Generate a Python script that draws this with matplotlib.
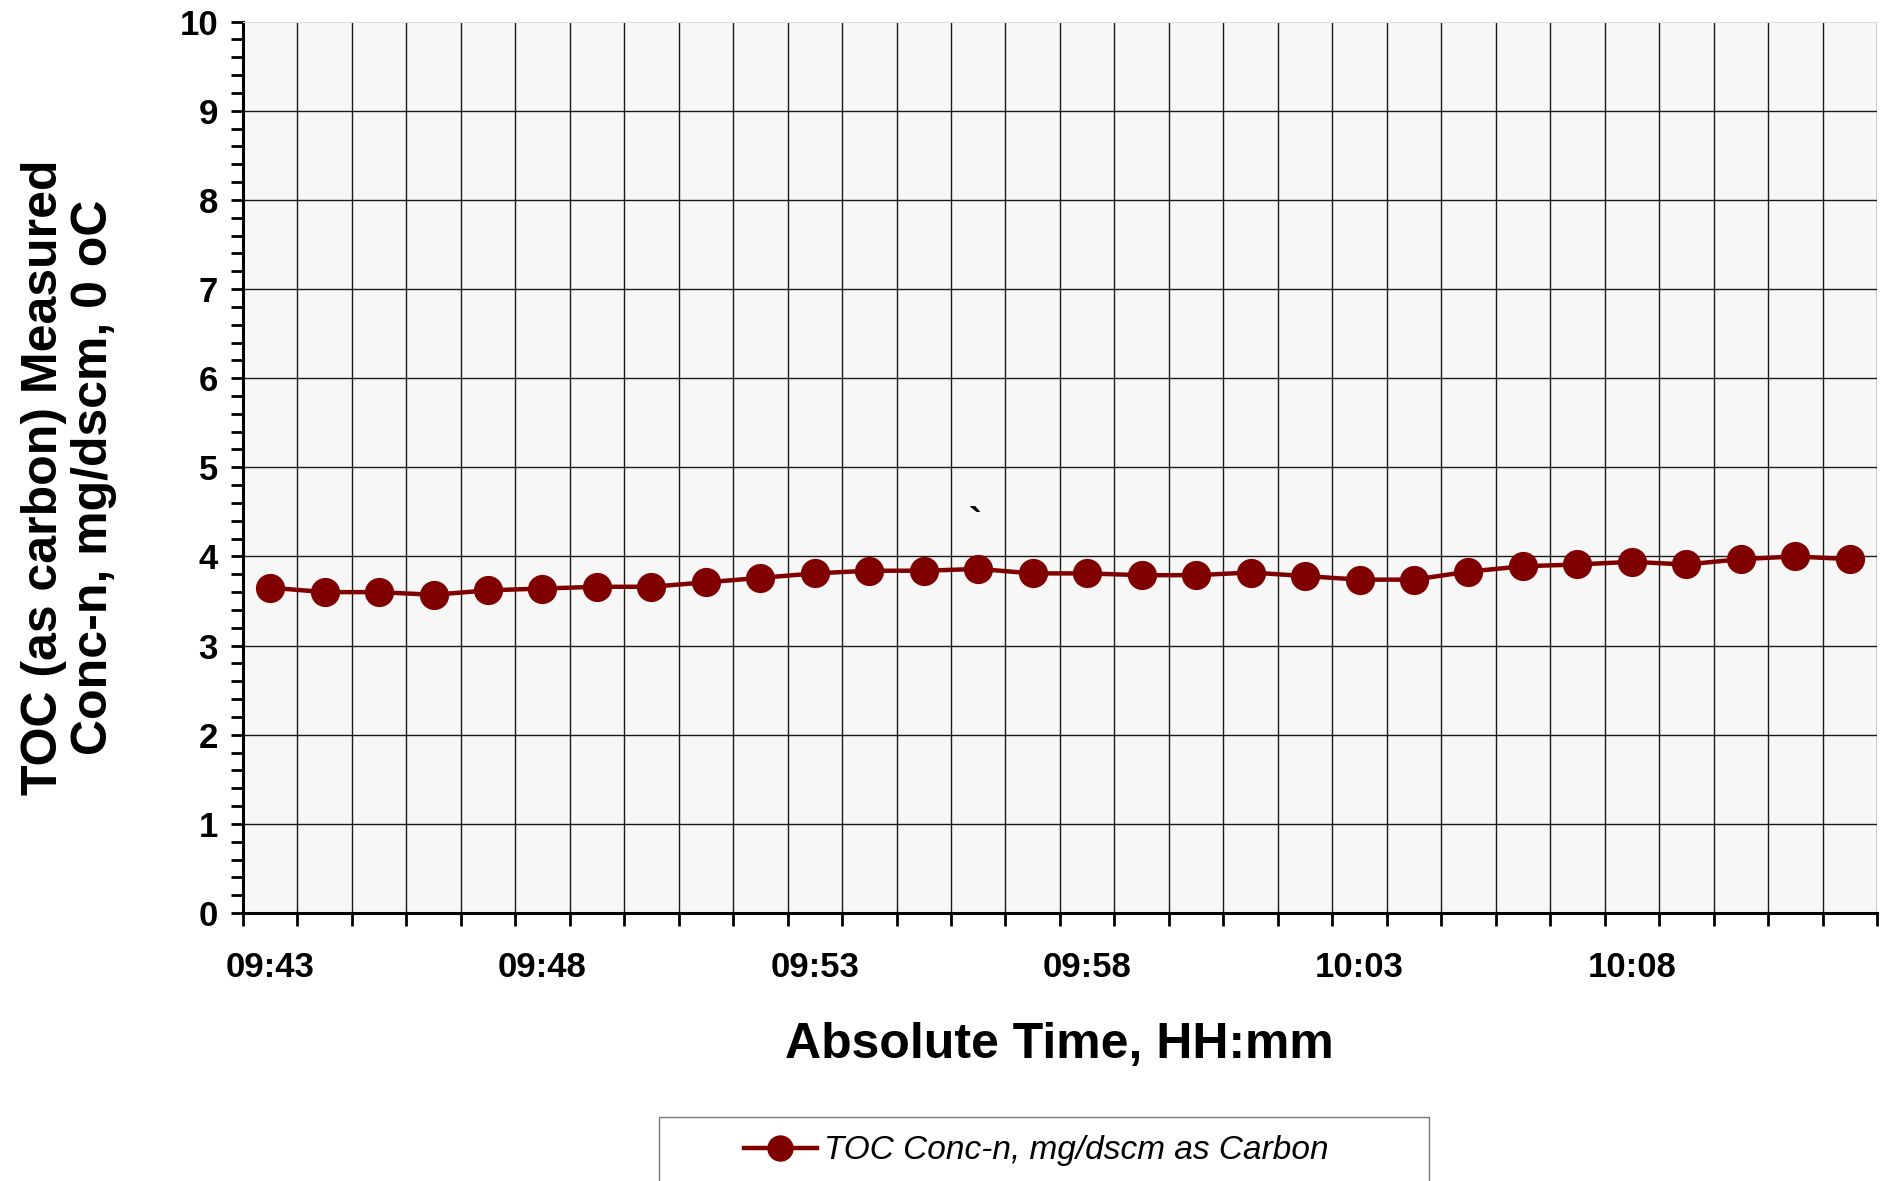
import pandas as pd
import matplotlib.pyplot as plt
from matplotlib.patches import Rectangle
from matplotlib.ticker import FixedLocator, MultipleLocator

plt.rcParams['font.family'] = ['Liberation Sans', 'DejaVu Sans']

# Datos: tiempo de cada lectura y concentracion TOC
times = ["09:43:30", "09:44:30", "09:45:30", "09:46:30", "09:47:30", "09:48:30",
         "09:49:30", "09:50:30", "09:51:30", "09:52:30", "09:53:30", "09:54:30",
         "09:55:30", "09:56:30", "09:57:30", "09:58:30", "09:59:30", "10:00:30",
         "10:01:30", "10:02:30", "10:03:30", "10:04:30", "10:05:30", "10:06:30",
         "10:07:30", "10:08:30", "10:09:30", "10:10:30", "10:11:30", "10:12:30"]
toc = [3.65, 3.60, 3.60, 3.57, 3.62, 3.64, 3.66, 3.66, 3.71, 3.76,
       3.81, 3.84, 3.84, 3.86, 3.81, 3.81, 3.79, 3.79, 3.82, 3.78,
       3.74, 3.74, 3.83, 3.89, 3.91, 3.94, 3.91, 3.97, 4.00, 3.97]
tick_labels = ["09:43", "09:48", "09:53", "09:58", "10:03", "10:08"]
start, end = "09:43", "10:13"

df = pd.DataFrame({"time": times, "toc": toc})
t0 = pd.to_datetime(start, format="%H:%M")
df["min"] = (pd.to_datetime(df["time"], format="%H:%M:%S") - t0).dt.total_seconds() / 60
span = (pd.to_datetime(end, format="%H:%M") - t0).total_seconds() / 60
lab_pos = [(pd.to_datetime(s, format="%H:%M") - t0).total_seconds() / 60 + 0.5 for s in tick_labels]

fig = plt.figure(figsize=(18.83, 11.81), dpi=100)
ax = fig.add_axes([0.129, 0.2269, 0.8678, 0.7548])
ax.set_facecolor("#f7f7f7")

ax.set_xlim(0, span)
ax.set_ylim(0, 10)

# rejilla
for v in range(1, int(span) + 1):
    ax.axvline(v, color="#1a1a1a", lw=1.0, zorder=1)
for v in range(1, 10):
    ax.axhline(v, color="#1a1a1a", lw=1.0, zorder=1)

ax.plot(df["min"], df["toc"], color="#800000", lw=3.2, marker="o", markersize=20,
        label="TOC Conc-n, mg/dscm as Carbon", zorder=3, clip_on=False)

ax.text(13.45, 4.35, "`", fontsize=28, fontweight="bold", ha="center", va="center")

# ejes
ax.xaxis.set_major_locator(MultipleLocator(1))
ax.xaxis.set_minor_locator(FixedLocator(lab_pos))
ax.xaxis.set_major_formatter(plt.NullFormatter())
ax.xaxis.set_minor_formatter(plt.FixedFormatter(tick_labels))
ax.tick_params(axis="x", which="major", direction="out", length=9, width=2)
ax.tick_params(axis="x", which="minor", length=0, pad=27, labelsize=25)
ax.yaxis.set_major_locator(MultipleLocator(1))
ax.yaxis.set_minor_locator(MultipleLocator(0.2))
ax.tick_params(axis="y", which="both", direction="out", length=9, width=2, pad=9, labelsize=25)
for lbl in ax.get_xticklabels(minor=True) + ax.get_yticklabels():
    lbl.set_fontweight("bold")

ax.spines["left"].set_linewidth(2.2)
ax.spines["bottom"].set_linewidth(2.2)
ax.spines["top"].set_color("#dddddd")
ax.spines["right"].set_visible(False)

fig.text(0.5625, 0.115, "Absolute Time, HH:mm", fontsize=36, fontweight="bold",
         ha="center", va="center")
fig.text(0.0365, 0.596, "TOC (as carbon) Measured\nConc-n, mg/dscm, 0 oC", fontsize=36,
         fontweight="bold", rotation=90, ha="center", va="center", linespacing=1.1)

# leyenda
fig.patches.append(Rectangle((659 / 1883, -0.05), 770 / 1883, 0.05 + 1 - 1117 / 1181,
                             transform=fig.transFigure, facecolor="white",
                             edgecolor="#777777", lw=1))
leg = fig.legend(loc="center", bbox_to_anchor=(1036 / 1883, 1 - 1151 / 1181), frameon=False,
                 prop={"style": "italic", "size": 24}, handlelength=2.2, handletextpad=0.2)
leg.legend_handles[0].set_markersize(18)

fig.savefig("out.png", dpi=100)
